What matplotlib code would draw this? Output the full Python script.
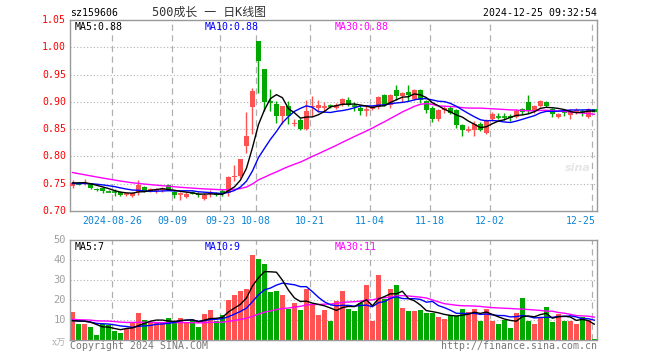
import matplotlib
matplotlib.use('Agg')
import matplotlib.pyplot as plt
import numpy as np
from matplotlib.transforms import blended_transform_factory

# ---------------- data ----------------
dates = ['08-15', '08-16', '08-19', '08-20', '08-21', '08-22', '08-23',
         '08-26', '08-27', '08-28', '08-29', '08-30',
         '09-02', '09-03', '09-04', '09-05', '09-06',
         '09-09', '09-10', '09-11', '09-12', '09-13',
         '09-18', '09-19', '09-20',
         '09-23', '09-24', '09-25', '09-26', '09-27', '09-30',
         '10-08', '10-09', '10-10', '10-11',
         '10-14', '10-15', '10-16', '10-17', '10-18',
         '10-21', '10-22', '10-23', '10-24', '10-25',
         '10-28', '10-29', '10-30', '10-31', '11-01',
         '11-04', '11-05', '11-06', '11-07', '11-08',
         '11-11', '11-12', '11-13', '11-14', '11-15',
         '11-18', '11-19', '11-20', '11-21', '11-22',
         '11-25', '11-26', '11-27', '11-28', '11-29',
         '12-02', '12-03', '12-04', '12-05', '12-06',
         '12-09', '12-10', '12-11', '12-12', '12-13',
         '12-16', '12-17', '12-18', '12-19', '12-20',
         '12-23', '12-24', '12-25']

open_ = [0.746, 0.751, 0.749, 0.749, 0.741, 0.742, 0.736, 0.736, 0.734, 0.730,
         0.728, 0.735, 0.744, 0.736, 0.738, 0.739, 0.748, 0.735, 0.730, 0.725,
         0.734, 0.732, 0.722, 0.731, 0.733, 0.737, 0.733, 0.762, 0.764, 0.820,
         0.891, 1.012, 0.960, 0.900, 0.896, 0.874, 0.893, 0.859, 0.866, 0.850,
         0.890, 0.889, 0.890, 0.893, 0.888, 0.895, 0.903, 0.893, 0.889, 0.884,
         0.887, 0.891, 0.913, 0.895, 0.921, 0.910, 0.918, 0.905, 0.921, 0.901,
         0.889, 0.868, 0.885, 0.889, 0.885, 0.858, 0.848, 0.849, 0.860, 0.843,
         0.868, 0.874, 0.873, 0.875, 0.872, 0.887, 0.900, 0.883, 0.892, 0.900,
         0.887, 0.872, 0.882, 0.876, 0.882, 0.882, 0.872, 0.886]
high = [0.756, 0.753, 0.758, 0.750, 0.742, 0.744, 0.738, 0.740, 0.736, 0.733,
        0.735, 0.756, 0.746, 0.743, 0.742, 0.744, 0.750, 0.736, 0.734, 0.734,
        0.736, 0.735, 0.733, 0.738, 0.735, 0.740, 0.765, 0.784, 0.796, 0.882,
        0.925, 1.012, 0.960, 0.923, 0.902, 0.893, 0.902, 0.868, 0.871, 0.903,
        0.911, 0.903, 0.899, 0.896, 0.897, 0.907, 0.909, 0.899, 0.895, 0.892,
        0.893, 0.910, 0.914, 0.914, 0.930, 0.918, 0.930, 0.923, 0.923, 0.904,
        0.892, 0.886, 0.893, 0.892, 0.887, 0.859, 0.855, 0.865, 0.863, 0.868,
        0.881, 0.880, 0.879, 0.877, 0.886, 0.889, 0.912, 0.895, 0.903, 0.901,
        0.889, 0.880, 0.886, 0.886, 0.889, 0.887, 0.889, 0.887]
low = [0.743, 0.748, 0.748, 0.740, 0.736, 0.733, 0.734, 0.727, 0.727, 0.727,
       0.726, 0.729, 0.734, 0.735, 0.733, 0.735, 0.738, 0.724, 0.720, 0.724,
       0.731, 0.726, 0.720, 0.726, 0.728, 0.728, 0.727, 0.755, 0.761, 0.807,
       0.841, 0.917, 0.884, 0.884, 0.861, 0.859, 0.859, 0.856, 0.848, 0.849,
       0.874, 0.882, 0.883, 0.889, 0.886, 0.893, 0.892, 0.883, 0.876, 0.874,
       0.885, 0.886, 0.892, 0.889, 0.904, 0.899, 0.902, 0.903, 0.898, 0.880,
       0.863, 0.865, 0.880, 0.877, 0.852, 0.838, 0.845, 0.837, 0.846, 0.842,
       0.865, 0.868, 0.867, 0.865, 0.870, 0.877, 0.880, 0.880, 0.891, 0.891,
       0.873, 0.870, 0.875, 0.868, 0.877, 0.874, 0.871, 0.881]
close = [0.751, 0.750, 0.754, 0.743, 0.738, 0.736, 0.735, 0.735, 0.729, 0.731,
         0.733, 0.747, 0.737, 0.741, 0.739, 0.740, 0.740, 0.730, 0.731, 0.732,
         0.733, 0.729, 0.730, 0.733, 0.730, 0.731, 0.763, 0.764, 0.795, 0.838,
         0.920, 0.974, 0.899, 0.899, 0.874, 0.892, 0.874, 0.861, 0.850, 0.884,
         0.893, 0.894, 0.891, 0.892, 0.895, 0.906, 0.895, 0.892, 0.883, 0.885,
         0.892, 0.909, 0.895, 0.913, 0.910, 0.916, 0.913, 0.921, 0.904, 0.885,
         0.869, 0.885, 0.889, 0.880, 0.857, 0.849, 0.849, 0.860, 0.849, 0.865,
         0.877, 0.873, 0.872, 0.871, 0.883, 0.881, 0.883, 0.892, 0.901, 0.893,
         0.877, 0.877, 0.881, 0.883, 0.883, 0.881, 0.887, 0.882]
# closes of the 29 sessions before the first visible one (for the moving averages)
pre_close = [0.815, 0.812, 0.805, 0.798, 0.795, 0.792, 0.788, 0.784, 0.780, 0.782,
             0.778, 0.775, 0.772, 0.770, 0.768, 0.765, 0.763, 0.760, 0.757, 0.755,
             0.752, 0.750, 0.748, 0.747, 0.748, 0.750, 0.752, 0.753, 0.752]

volume = [13.8, 8.0, 8.0, 6.5, 2.5, 7.8, 7.5, 4.5, 3.5, 5.5,
          9.2, 13.5, 10.0, 8.8, 8.3, 9.2, 11.0, 9.2, 11.0, 9.2,
          10.0, 6.5, 13.0, 15.0, 9.7, 12.5, 20.0, 22.5, 24.5, 25.5,
          42.5, 40.5, 38.0, 24.0, 24.5, 22.5, 15.7, 18.5, 15.0, 25.5,
          17.5, 12.5, 15.0, 9.5, 19.5, 24.5, 15.5, 14.5, 18.5, 27.5,
          9.5, 32.5, 20.5, 25.5, 27.5, 16.0, 14.5, 14.5, 15.0, 13.5,
          13.5, 11.5, 10.5, 12.5, 12.0, 15.5, 14.0, 15.5, 9.5, 15.5,
          9.5, 8.0, 10.0, 6.0, 13.5, 21.0, 9.5, 8.0, 11.5, 16.5,
          9.0, 13.0, 9.5, 9.5, 8.0, 11.5, 10.0, 0.5]
pre_volume = [12.5, 11.0, 9.5, 13.0, 10.5, 9.0, 11.5, 12.0, 10.0, 9.5,
              11.0, 10.5, 9.0, 12.5, 10.0, 9.5, 11.0, 10.0, 9.5, 10.5,
              10.0, 9.0, 10.5, 9.5, 9.5, 9.0, 8.5, 9.0, 8.2]

tick_dates = ['08-26', '09-09', '09-23', '10-08', '10-21', '11-04', '11-18', '12-02', '12-25']
tick_labels = ['2024-08-26', '09-09', '09-23', '10-08', '10-21', '11-04', '11-18', '12-02', '12-25']
price_ticks = [0.70, 0.75, 0.80, 0.85, 0.90, 0.95, 1.00, 1.05]
vol_ticks = [10, 20, 30, 40, 50]

code = 'sz159606'
title = '500成长 一 日K线图'
stamp = '2024-12-25 09:32:54'
price_ma_text = ['MA5:0.88', 'MA10:0.88', 'MA30:0.88']
vol_ma_text = ['MA5:7', 'MA10:9', 'MA30:11']

# ---------------- helpers ----------------
def moving_avg(pre, vals, n):
    full = np.array(list(pre) + list(vals), dtype=float)
    p = len(pre)
    return np.array([full[p + i - n + 1:p + i + 1].mean() for i in range(len(vals))])

RED = '#ff5252'
GREEN = '#00a800'
GRID = '#b0b0b0'
BORDER = '#999999'
MONO = 'DejaVu Sans Mono'
FS = 7.1

W, H = 660, 360
fig = plt.figure(figsize=(W / 100, H / 100), dpi=100)
fig.patch.set_facecolor('white')

ax = fig.add_axes([70 / W, 1 - 211 / H, 527 / W, 191 / H])
axv = fig.add_axes([70 / W, 1 - 340 / H, 527 / W, 100 / H])

n = len(close)
x = np.arange(n)
o = np.array(open_); c = np.array(close); h = np.array(high); l = np.array(low)
up = c >= o
colors = np.where(up, RED, GREEN)

xlim = (-0.42, n - 1 + 0.45)
tick_idx = [dates.index(d) for d in tick_dates]
grid_x = [i - 0.4 for i in tick_idx]

for a in (ax, axv):
    a.set_xlim(*xlim)
    a.set_xticks([])
    a.set_yticks([])
    for s in a.spines.values():
        s.set_color(BORDER)
        s.set_linewidth(1.0)
    for gx in grid_x:
        a.axvline(gx, color=GRID, lw=0.9, ls=(0, (5, 3.5)), zorder=0)

# ---------------- price panel ----------------
ax.set_ylim(0.70, 1.05)
for p in price_ticks[1:-1]:
    ax.axhline(p, color=GRID, lw=0.8, ls=(0, (1, 2)), zorder=0)

bw = 0.83
ax.vlines(x, l, h, colors=colors, lw=1.0, zorder=2)
body_bottom = np.minimum(o, c)
body_h = np.abs(c - o)
flat = body_h < 0.0012
ax.bar(x[~flat], body_h[~flat], bottom=body_bottom[~flat], width=bw,
       color=colors[~flat], edgecolor='none', zorder=3)
ax.hlines(c[flat], x[flat] - bw / 2, x[flat] + bw / 2, colors=colors[flat], lw=1.2, zorder=3)

ma5 = moving_avg(pre_close, close, 5)
ma10 = moving_avg(pre_close, close, 10)
ma30 = moving_avg(pre_close, close, 30)
ax.plot(x, ma30, color='#ff00ff', lw=1.0, zorder=4)
ax.plot(x, ma10, color='#0000ff', lw=1.0, zorder=4)
ax.plot(x, ma5, color='black', lw=1.0, zorder=4)

trans = blended_transform_factory(fig.transFigure, ax.transData)
for p in price_ticks:
    fig.text(66 / W, 0, f'{p:.2f}', transform=trans, ha='right', va='center',
             color='#ff0000', fontsize=FS, family=MONO)
    # place at correct height
for t in list(fig.texts):
    pass

# ---------------- volume panel ----------------
axv.set_ylim(0, 50)
for v in vol_ticks[:-1]:
    axv.axhline(v, color=GRID, lw=0.8, ls=(0, (1, 2)), zorder=0)
axv.bar(x, volume, width=bw, color=colors, edgecolor='none', zorder=2)
vma5 = moving_avg(pre_volume, volume, 5)
vma10 = moving_avg(pre_volume, volume, 10)
vma30 = moving_avg(pre_volume, volume, 30)
axv.plot(x, vma30, color='#ff00ff', lw=1.0, zorder=4)
axv.plot(x, vma10, color='#0000ff', lw=1.0, zorder=4)
axv.plot(x, vma5, color='black', lw=1.0, zorder=4)

# ---------------- texts ----------------
fig.texts.clear()
def ftxt(px, py, s, **kw):
    kw.setdefault('family', MONO)
    kw.setdefault('fontsize', FS)
    fig.text(px / W, 1 - py / H, s, **kw)

tp = blended_transform_factory(fig.transFigure, ax.transData)
for p in price_ticks:
    fig.text(66 / W, p, f'{p:.2f}', transform=tp, ha='right', va='center',
             color='#ff0000', fontsize=FS, family=MONO)
tv = blended_transform_factory(fig.transFigure, axv.transData)
for v in vol_ticks:
    fig.text(66 / W, v, f'{v}', transform=tv, ha='right', va='center',
             color='#a0a0a0', fontsize=FS + 0.4, family=MONO)
ftxt(66, 343, 'x万', ha='right', va='center', color='#b0b0b0', fontsize=6.5,
     family=['DejaVu Serif', 'Noto Sans CJK SC'])

# date labels
tdx = blended_transform_factory(ax.transData, fig.transFigure)
for gx, lab in zip(grid_x, tick_labels):
    if lab == tick_labels[-1]:
        fig.text(596 / W, 1 - 221 / H, lab, ha='right', va='center',
                 color='#0a84d6', fontsize=FS, family=MONO)
    else:
        fig.text(gx, 1 - 221 / H, lab, transform=tdx, ha='center', va='center',
                 color='#0a84d6', fontsize=FS, family=MONO)

# headers
ftxt(70, 13, code, ha='left', va='center', color='black')
ftxt(209, 12, title, ha='center', va='center', color='#333333', fontsize=8.6,
     family=[MONO, 'Noto Sans CJK SC'])
ftxt(597, 13, stamp, ha='right', va='center', color='black')

ma_x = [75, 205, 335]
ma_c = ['black', '#0000ff', '#ff00ff']
for mx, s, col in zip(ma_x, price_ma_text, ma_c):
    ftxt(mx, 26.5, s, ha='left', va='center', color=col)
for mx, s, col in zip(ma_x, vol_ma_text, ma_c):
    ftxt(mx, 246.5, s, ha='left', va='center', color=col)

ftxt(70, 346, 'Copyright 2024 SINA.COM', ha='left', va='center', color='#777777')
ftxt(597, 346, 'http://finance.sina.com.cn', ha='right', va='center', color='#777777')

# faint watermark
ftxt(578, 168, 'sina', ha='center', va='center', color='#e6e6e6', fontsize=8,
     family='DejaVu Sans', fontweight='bold', style='italic')

fig.savefig('out.png', dpi=100, facecolor='white')
